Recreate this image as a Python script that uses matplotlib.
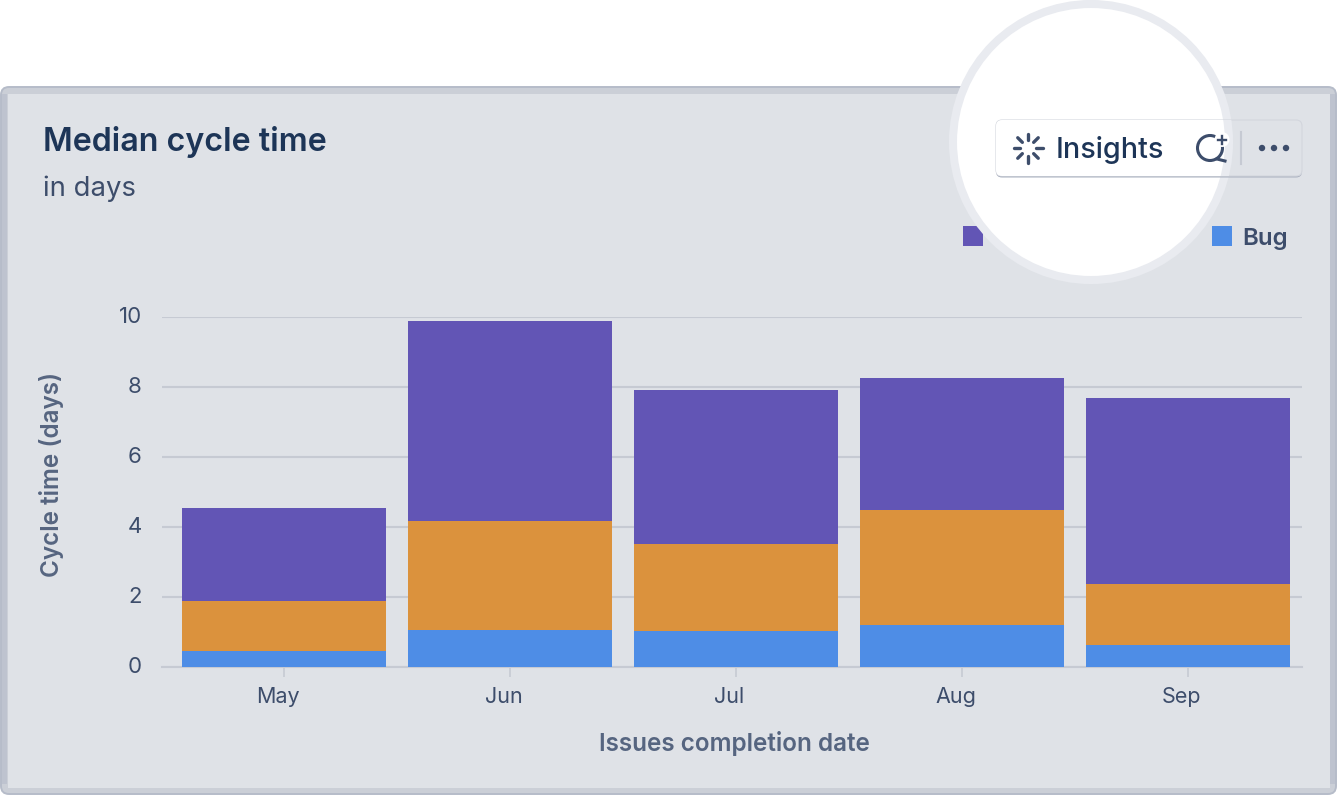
import numpy as np
import matplotlib
matplotlib.use("Agg")
import matplotlib.pyplot as plt
from matplotlib.patches import FancyBboxPatch, Circle, Rectangle
from matplotlib.transforms import ScaledTranslation

plt.rcParams['font.family'] = ['Inter', 'DejaVu Sans']

W, H = 1338, 796

months = ['May', 'Jun', 'Jul', 'Aug', 'Sep']
bug = [0.46, 1.06, 1.03, 1.20, 0.63]
middle = [1.43, 3.11, 2.48, 3.29, 1.74]
top = [2.65, 5.72, 4.40, 3.77, 5.32]
y_ticks = [0, 2, 4, 6, 8, 10]

C_BUG = '#4E8DE6'
C_MID = '#DB923D'
C_TOP = '#6255B5'
C_CARD = '#DFE2E7'
C_GRID = '#C6CAD3'
C_TEXT = '#3D4D6B'
C_DARK = '#1D3557'
C_RING = '#E9EBF0'

fig = plt.figure(figsize=(W / 100, H / 100), dpi=100, facecolor='white')

# card background, in pixels
bg = fig.add_axes([0, 0, 1, 1], zorder=0)
bg.set_xlim(0, W)
bg.set_ylim(H, 0)
bg.axis('off')
bg.add_patch(FancyBboxPatch((1, 87), W - 3, H - 89, boxstyle='round,pad=0,rounding_size=8',
                            fc='#CBCFD7', ec='#B6BCC9', lw=1.4))
bg.add_patch(Rectangle((2, 94), 5, H - 106, fc='#BEC3CF', ec='none'))
bg.add_patch(Rectangle((1330, 94), 5, H - 106, fc='#BEC3CF', ec='none'))
bg.add_patch(Rectangle((8, 94), 1322, 694, fc=C_CARD, ec='none'))

# chart
ax = fig.add_axes([162 / W, 1 - 667 / H, 1140 / W, 350 / H], zorder=1)
ax.patch.set_alpha(0)
x = np.arange(len(months))
bug = np.array(bug)
middle = np.array(middle)
top = np.array(top)
ax.bar(x, bug, width=0.903, color=C_BUG, zorder=3)
ax.bar(x, middle, width=0.903, bottom=bug, color=C_MID, zorder=3)
ax.bar(x, top, width=0.903, bottom=bug + middle, color=C_TOP, zorder=3)
ax.set_xlim(-0.54, 4.504)
ax.set_ylim(0, 10)
for s in ['top', 'right', 'left']:
    ax.spines[s].set_visible(False)
ax.spines['bottom'].set_color(C_GRID)
ax.spines['bottom'].set_linewidth(1.5)
ax.set_yticks(y_ticks)
ax.yaxis.grid(True, color=C_GRID, lw=1.5, zorder=0)
ax.set_axisbelow(True)
ax.tick_params(axis='y', length=0, pad=14.5, labelsize=16, labelcolor=C_TEXT)
ax.set_xticks(x)
ax.set_xticklabels(months)
ax.tick_params(axis='x', length=7, width=1.2, color=C_GRID, pad=7.5, labelsize=15.5, labelcolor=C_TEXT)
x_shift = ScaledTranslation(-6.5 / 100, 0, fig.dpi_scale_trans)
for lab in ax.get_xticklabels():
    lab.set_transform(lab.get_transform() + x_shift)
y_shift = ScaledTranslation(0, 2 / 100, fig.dpi_scale_trans)
for lab in ax.get_yticklabels():
    lab.set_transform(lab.get_transform() + y_shift)

# text and decoration, in pixels
ov = fig.add_axes([0, 0, 1, 1], zorder=2)
ov.set_xlim(0, W)
ov.set_ylim(H, 0)
ov.axis('off')
ov.text(43, 142, 'Median cycle time', fontsize=23.2, fontweight='semibold', color=C_DARK, va='center')
ov.text(43, 189, 'in days', fontsize=19.8, color=C_TEXT, va='center')
ov.text(52, 474, 'Cycle time (days)', fontsize=17.5, fontweight='semibold', color='#566580',
        rotation=90, ha='center', va='center')
ov.text(734.5, 744, 'Issues completion date', fontsize=17.5, fontweight='semibold', color='#566580',
        ha='center', va='center')

ov.add_patch(Rectangle((963, 226), 20, 20, fc=C_TOP, ec='none'))
ov.add_patch(Rectangle((1212, 226), 20, 20, fc=C_BUG, ec='none'))
ov.text(1242, 238.5, 'Bug', fontsize=17.3, fontweight='semibold', color=C_TEXT, va='center')

# magnifier and button
ov.add_patch(Circle((1091, 142), 138, fc='white', ec=C_RING, lw=5.8, zorder=3))
ov.add_patch(FancyBboxPatch((996, 121.5), 306, 56, boxstyle='round,pad=0,rounding_size=6',
                            fc='#A9B0BF', ec='none', zorder=3.1))
button = FancyBboxPatch((996, 120), 306, 56, boxstyle='round,pad=0,rounding_size=6',
                        fc=C_CARD, ec='#D3D6DD', lw=0.8, zorder=3.2)
ov.add_patch(button)
inside = Circle((1091, 142), 138, fc='white', ec=C_RING, lw=5.8, zorder=3.3)
ov.add_patch(inside)
inside.set_clip_path(button)
ov.plot([1241, 1241], [132, 164], color='#C6CAD3', lw=1.5, zorder=5)
ov.text(1056, 150, 'Insights', fontsize=20.7, fontweight='medium', color=C_DARK, va='center', zorder=5)

# Insights icon
for a in np.arange(0, 360, 45):
    r = np.radians(a)
    ov.plot([1028 + 8 * np.cos(r), 1028 + 14.5 * np.cos(r)],
            [148 + 8 * np.sin(r), 148 + 14.5 * np.sin(r)],
            color=C_TEXT, lw=2.4, solid_capstyle='round', zorder=5)

# chat icon
ov.add_patch(Circle((1210, 148), 12.5, fc='none', ec=C_TEXT, lw=2.2, zorder=5))
ov.plot([1217, 1225], [159, 161], color=C_TEXT, lw=2.2, zorder=5)
ov.add_patch(Circle((1222, 139.5), 7.5, fc='white', ec='none', zorder=5.5))
ov.plot([1222, 1222], [135.5, 143.5], color=C_TEXT, lw=1.7, zorder=6)
ov.plot([1218, 1226], [139.5, 139.5], color=C_TEXT, lw=1.7, zorder=6)

for px in [1262, 1274, 1286]:
    ov.add_patch(Circle((px, 148), 3.2, fc=C_TEXT, ec='none', zorder=5))

fig.savefig('out.png', dpi=100, facecolor='white')
